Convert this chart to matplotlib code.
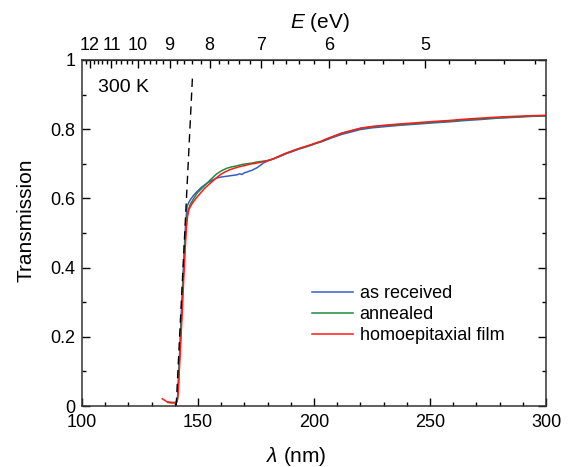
import matplotlib
matplotlib.use("Agg")
import matplotlib.pyplot as plt
from matplotlib.ticker import MultipleLocator, FixedLocator, FuncFormatter

plt.rcParams['font.family'] = ['Liberation Sans', 'DejaVu Sans']
plt.rcParams['mathtext.fontset'] = 'custom'
plt.rcParams['mathtext.it'] = 'Liberation Sans:italic'
plt.rcParams['mathtext.rm'] = 'Liberation Sans'

HC = 1239.84  # eV*nm

# transmission spectra, wavelength in nm
wl_film = [134.6, 135.5, 136.7, 138.5, 140.3, 141.0, 141.5, 142.4, 143.2, 143.9,
           144.5, 145.0, 145.5, 146.0, 147.0, 148.1, 149.5, 151.0, 153.0, 155.3,
           157.5, 159.5, 161.5, 163.8, 166.0, 168.1, 170.2, 172.4, 174.5, 176.7,
           179.0, 181.0, 183.0, 185.2, 188.0, 190.9, 193.8, 196.7, 199.0, 201.0,
           203.0, 205.0, 208.1, 212.0, 216.6, 220.0, 225.2, 230.0, 236.6, 243.0,
           250.9, 258.0, 265.2, 272.0, 279.4, 286.0, 293.7, 300.0]
tr_film = [0.021, 0.017, 0.012, 0.010, 0.010, 0.012, 0.040, 0.164, 0.270, 0.375,
           0.455, 0.519, 0.548, 0.567, 0.580, 0.591, 0.603, 0.615, 0.630, 0.644,
           0.657, 0.668, 0.676, 0.683, 0.688, 0.692, 0.695, 0.699, 0.701, 0.704,
           0.707, 0.711, 0.716, 0.723, 0.731, 0.738, 0.745, 0.751, 0.756, 0.761,
           0.765, 0.771, 0.779, 0.789, 0.797, 0.803, 0.808, 0.811, 0.815, 0.818,
           0.822, 0.825, 0.829, 0.832, 0.835, 0.837, 0.839, 0.840]

wl_anneal = [137.0, 139.0, 140.5, 141.2, 141.8, 142.5, 143.3, 144.0, 144.6, 145.3,
             146.0, 146.7, 148.0, 149.6, 151.5, 153.9, 156.0, 158.1, 160.2, 162.4,
             164.5, 166.7, 169.0, 171.0, 173.2, 175.3, 177.5, 179.5, 181.0, 183.0,
             185.2, 188.0, 190.9, 193.8, 196.7, 199.0, 201.0, 203.0, 205.0, 208.1,
             212.0, 216.6, 220.0, 225.2, 230.0, 236.6, 243.0, 250.9, 258.0, 265.2,
             272.0, 279.4, 286.0, 293.7, 300.0]
tr_anneal = [0.010, 0.009, 0.010, 0.020, 0.100, 0.200, 0.320, 0.420, 0.490, 0.548,
             0.570, 0.583, 0.598, 0.615, 0.628, 0.644, 0.658, 0.671, 0.680, 0.687,
             0.691, 0.694, 0.698, 0.700, 0.702, 0.705, 0.707, 0.709, 0.711, 0.715,
             0.722, 0.730, 0.737, 0.744, 0.750, 0.755, 0.760, 0.764, 0.770, 0.778,
             0.788, 0.796, 0.802, 0.807, 0.810, 0.813, 0.816, 0.820, 0.823, 0.827,
             0.830, 0.833, 0.835, 0.838, 0.839]

wl_recv = [137.0, 139.0, 140.6, 141.2, 141.8, 142.5, 143.3, 144.0, 144.6, 145.3,
           146.0, 146.7, 148.0, 149.6, 151.5, 153.9, 156.0, 158.1, 160.2, 162.4,
           164.5, 166.7, 168.0, 169.0, 170.0, 171.0, 172.2, 173.2, 174.3, 175.3,
           176.8, 178.1, 180.0, 182.0, 185.2, 188.0, 190.9, 193.8, 196.7, 199.0,
           201.0, 203.0, 205.0, 208.1, 212.0, 216.6, 220.0, 225.2, 230.0, 236.6,
           243.0, 250.9, 258.0, 265.2, 272.0, 279.4, 286.0, 293.7, 300.0]
tr_recv = [0.011, 0.010, 0.010, 0.025, 0.110, 0.220, 0.340, 0.440, 0.520, 0.577,
           0.588, 0.596, 0.608, 0.620, 0.632, 0.644, 0.652, 0.659, 0.662, 0.664,
           0.666, 0.668, 0.671, 0.669, 0.674, 0.676, 0.679, 0.681, 0.685, 0.688,
           0.695, 0.702, 0.708, 0.713, 0.721, 0.729, 0.736, 0.743, 0.749, 0.754,
           0.759, 0.763, 0.768, 0.776, 0.785, 0.793, 0.799, 0.804, 0.807, 0.811,
           0.814, 0.818, 0.821, 0.825, 0.828, 0.832, 0.834, 0.837, 0.838]

# absorption edge extrapolation
edge_wl = [140.6, 147.7]
edge_tr = [0.0, 0.962]

e_major = [5, 6, 7, 8, 9, 10, 11, 12]
e_minor = [4.2, 4.4, 4.6, 4.8, 5.2, 5.4, 5.6, 5.8, 6.2, 6.4, 6.6, 6.8,
           7.2, 7.4, 7.6, 7.8, 8.2, 8.4, 8.6, 8.8, 9.2, 9.4, 9.6, 9.8,
           10.2, 10.4, 10.6, 10.8, 11.2, 11.4, 11.6, 11.8, 12.2]

fig = plt.figure(figsize=(5.69, 4.67), dpi=100)
ax = fig.add_axes([0.1441, 0.1306, 0.8155, 0.741])

ax.plot(wl_recv, tr_recv, color='#3a5bc4', lw=1.1, label='as received')
ax.plot(wl_anneal, tr_anneal, color='#1f8c3b', lw=1.1, label='annealed')
ax.plot(wl_film, tr_film, color='#ff1a1a', lw=1.1, label='homoepitaxial film')
ax.plot(edge_wl, edge_tr, color='black', lw=1.0, ls=(0, (6, 4)))

ax.set_xlim(100, 300)
ax.set_ylim(0, 1)
ax.xaxis.set_major_locator(MultipleLocator(50))
ax.xaxis.set_minor_locator(MultipleLocator(10))
ax.yaxis.set_major_locator(MultipleLocator(0.2))
ax.yaxis.set_minor_locator(MultipleLocator(0.1))
ax.yaxis.set_major_formatter(FuncFormatter(lambda v, p: f"{v:g}"))
ax.tick_params(which='both', direction='in', top=False, right=True,
               labelsize=13, width=1.0, pad=4.5)
ax.tick_params(axis='x', which='both', pad=6)
ax.tick_params(which='major', length=6)
ax.tick_params(which='minor', length=3)
for s in ax.spines.values():
    s.set_linewidth(1.1)
    s.set_color('#333333')

ax.set_xlabel(r'$\it{\lambda}$ (nm)', fontsize=15)
ax.set_ylabel('Transmission', fontsize=15)
ax.xaxis.set_label_coords(0.461, -0.112)
ax.yaxis.set_label_coords(-0.10, 0.538)

sec = ax.secondary_xaxis('top', functions=(lambda x: HC / x, lambda e: HC / e))
sec.xaxis.set_major_locator(FixedLocator(e_major))
sec.xaxis.set_minor_locator(FixedLocator(e_minor))
sec.tick_params(which='both', direction='in', labelsize=13, width=1.0, pad=4.5)
sec.tick_params(which='major', length=6)
sec.tick_params(which='minor', length=3)
sec.set_xlabel(r'$E$ (eV)', fontsize=15, va='bottom')
sec.xaxis.set_label_coords(0.513, 1.075, transform=ax.transAxes)

ax.text(0.0345, 0.919, '300 K', transform=ax.transAxes, fontsize=14,
        ha='left', va='center')

ax.legend(loc='upper left', bbox_to_anchor=(0.495, 0.35), frameon=False,
          fontsize=13, handlelength=2.3, handletextpad=0.35,
          labelspacing=0.22, borderpad=0, borderaxespad=0)

fig.savefig('out.png', dpi=100)
